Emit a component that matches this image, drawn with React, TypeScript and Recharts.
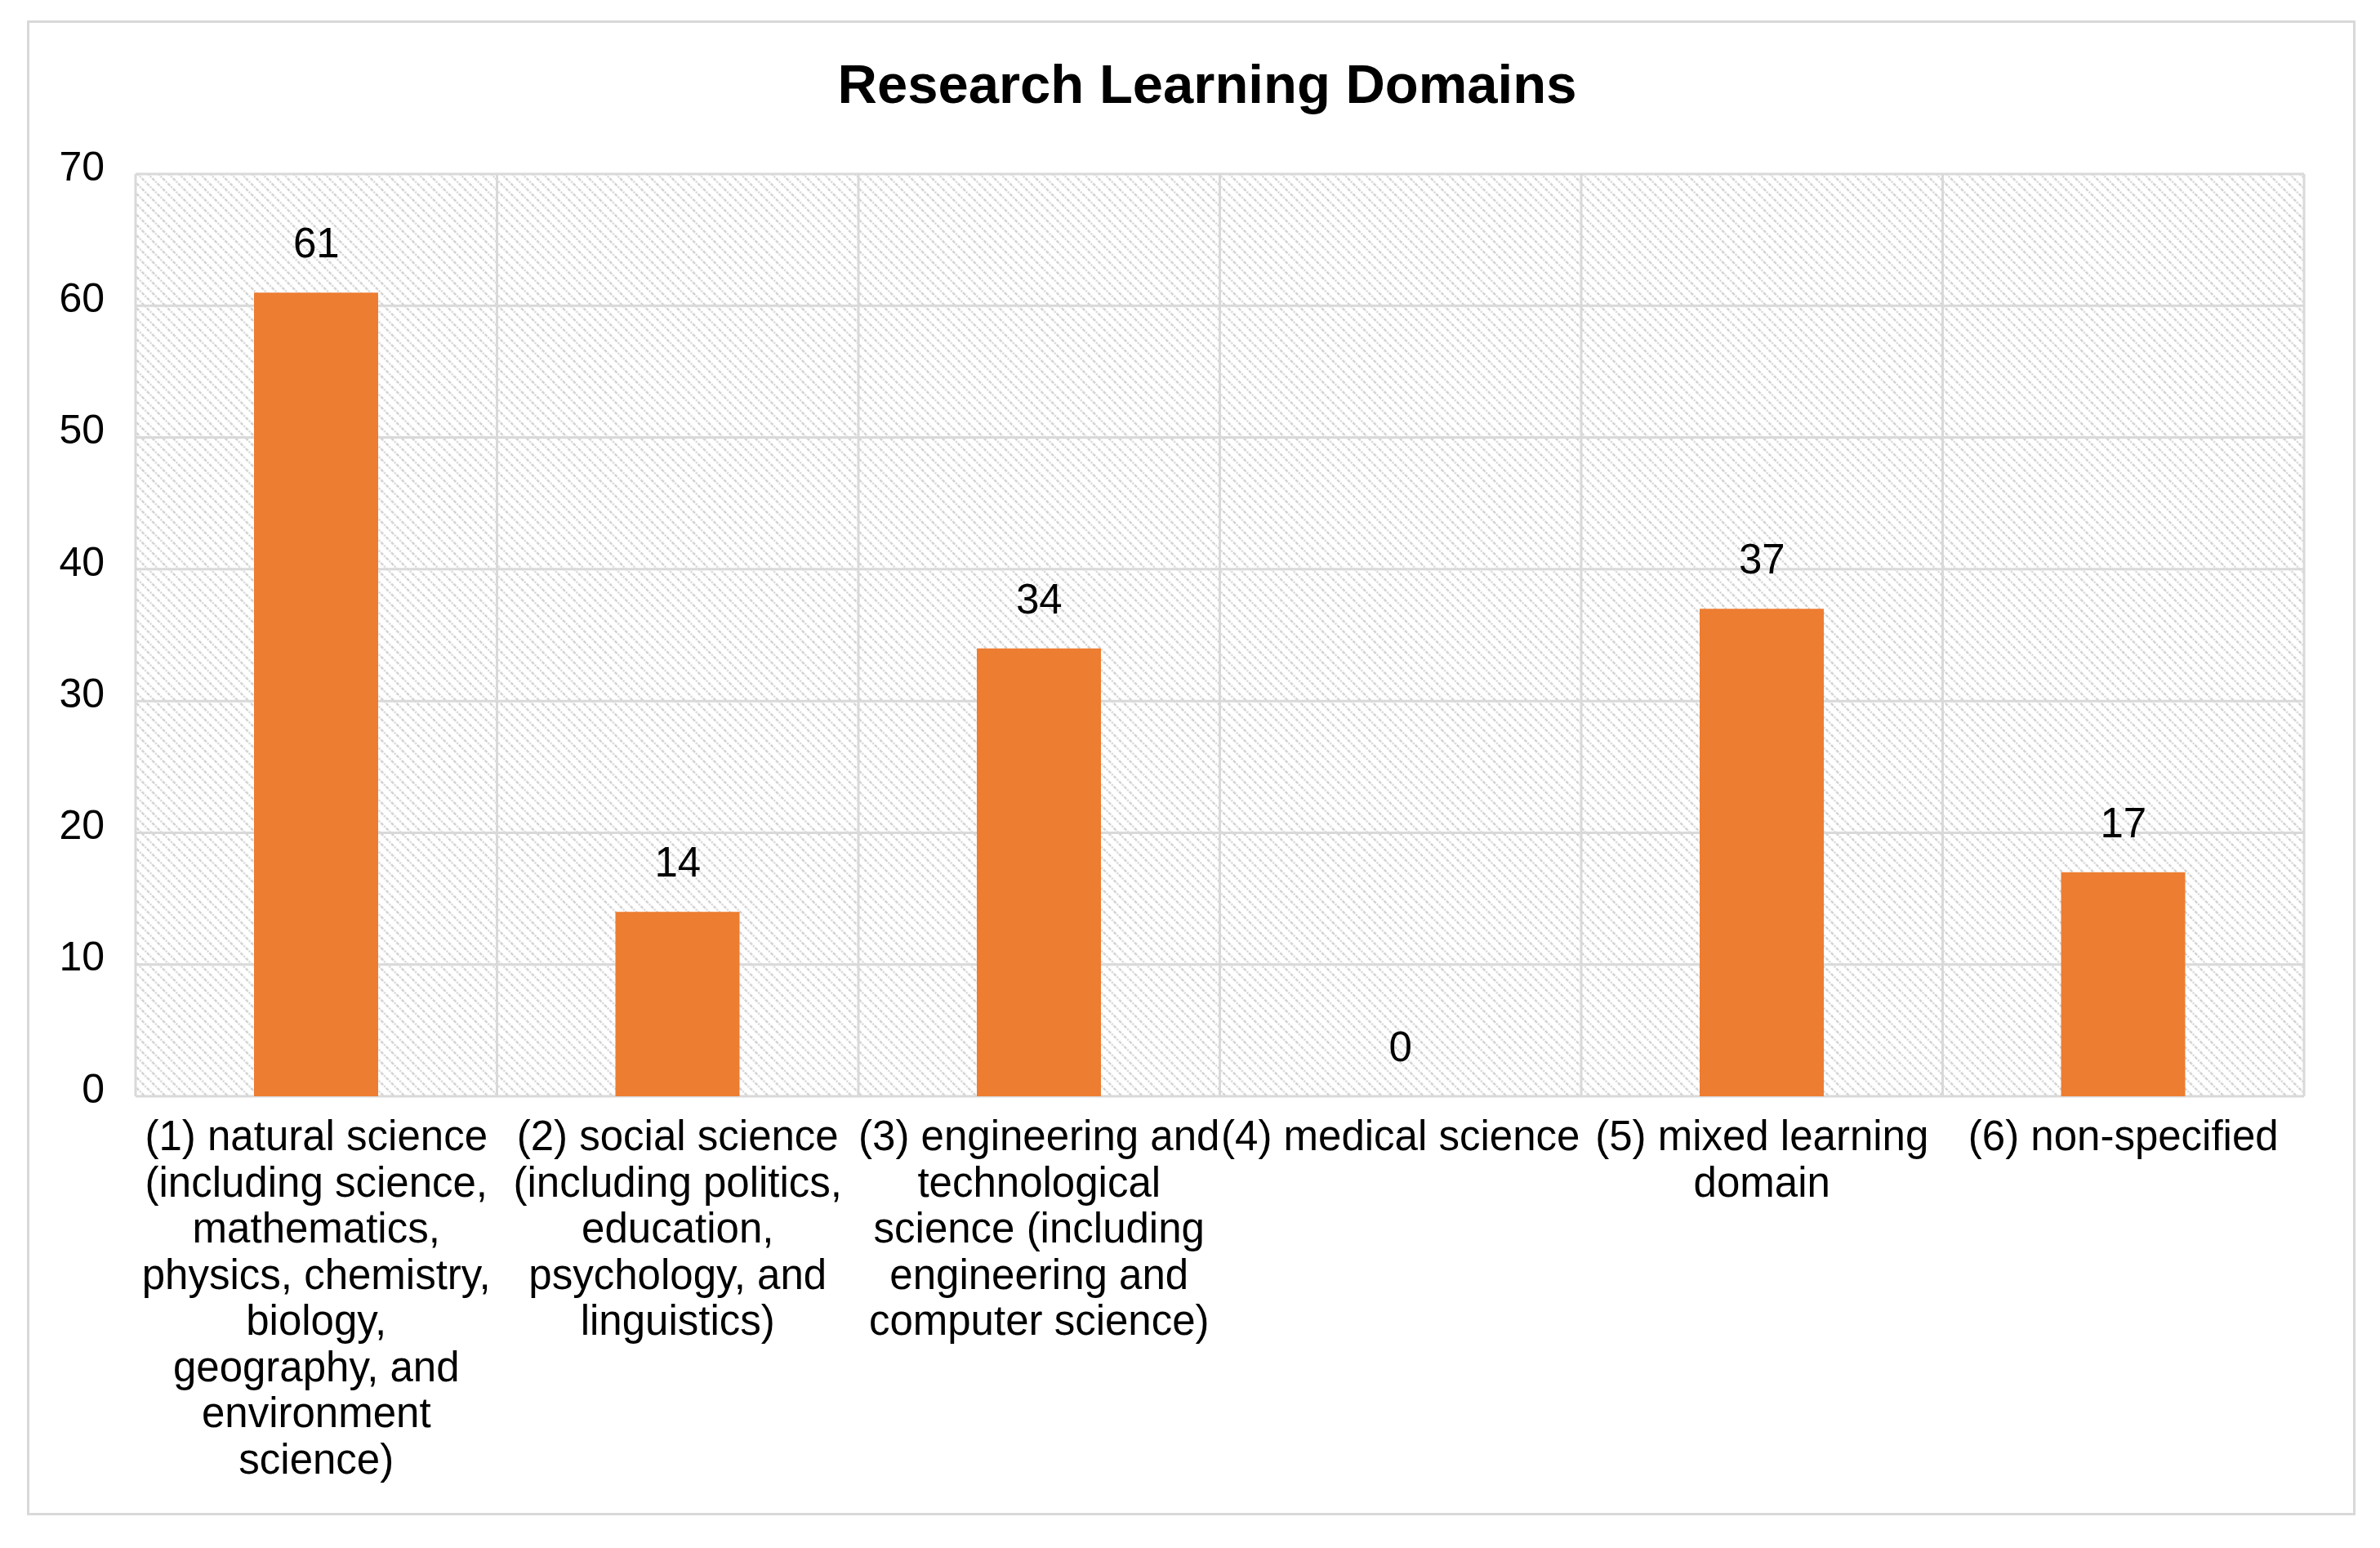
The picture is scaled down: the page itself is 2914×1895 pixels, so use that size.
import React from 'react';
import { ComposedChart, Bar, Line, XAxis, YAxis, CartesianGrid, LabelList } from 'recharts';

const categories = [
  '(1) natural science',
  '(2) social science',
  '(3) engineering and technological science',
  '(4) medical science',
  '(5) mixed learning domain',
  '(6) non-specified',
];

const values = [61, 14, 34, 0, 37, 17];

const tickLines = [
  ['(1) natural science', '(including science,', 'mathematics,', 'physics, chemistry,', 'biology,', 'geography, and', 'environment', 'science)'],
  ['(2) social science', '(including politics,', 'education,', 'psychology, and', 'linguistics)'],
  ['(3) engineering and', 'technological', 'science (including', 'engineering and', 'computer science)'],
  ['(4) medical science'],
  ['(5) mixed learning', 'domain'],
  ['(6) non-specified'],
];

const yTicks = [0, 10, 20, 30, 40, 50, 60, 70];

const title = 'Research Learning Domains';

const data = categories.map((name, i) => ({ name, value: values[i] }));

const FONT = '"Liberation Sans", Arial, sans-serif';
const GRID = '#d9d9d9';

const XTick = (props: any) => {
  const { x, y, payload } = props;
  const idx = categories.indexOf(payload.value);
  const lines = tickLines[idx] || [String(payload.value)];
  return (
    <text textAnchor="middle" fontFamily={FONT} fontSize={51} fill="#000">
      {lines.map((l, i) => (
        <tspan key={i} x={x} y={y + 66 + i * 56.5}>
          {l}
        </tspan>
      ))}
    </text>
  );
};

const YTick = (props: any) => {
  const { x, y, payload } = props;
  return (
    <text x={x} y={y - 10} dy="0.355em" textAnchor="end" fontFamily={FONT} fontSize={50} fill="#000">
      {payload.value}
    </text>
  );
};

const ValueLabel = (props: any) => {
  const { x, y, value } = props;
  return (
    <text x={x} y={y - 43} textAnchor="middle" fontFamily={FONT} fontSize={51} fill="#000">
      {value}
    </text>
  );
};

export default function App() {
  const W = 2914;
  const H = 1895;
  return (
    <div style={{ position: 'absolute', left: 0, top: 0, width: W, height: H, background: '#fff' }}>
      <div
        style={{
          position: 'absolute',
          left: 33,
          top: 25,
          width: 2851,
          height: 1830,
          border: '3px solid #d9d9d9',
          boxSizing: 'border-box',
        }}
      />
      <div
        style={{
          position: 'absolute',
          left: 1478 - 1000,
          width: 2000,
          top: 63,
          lineHeight: '80px',
          textAlign: 'center',
          fontFamily: FONT,
          fontWeight: 'bold',
          fontSize: 67,
          color: '#000',
        }}
      >
        {title}
      </div>
      <div style={{ position: 'absolute', left: 0, top: 0 }}>
        <ComposedChart width={W} height={H} data={data} margin={{ top: 213, right: 93, bottom: 0, left: 0 }}>
          <defs>
            <pattern id="hatch" patternUnits="userSpaceOnUse" width="9" height="9" patternTransform="rotate(45)">
              <rect width="9" height="9" fill="#ffffff" />
              <line x1="0" y1="4.5" x2="9" y2="4.5" stroke="#c8c8c8" strokeWidth="2" strokeDasharray="2 1.5" />
            </pattern>
          </defs>
          <CartesianGrid
            fill="url(#hatch)"
            fillOpacity={1}
            stroke={GRID}
            strokeWidth={3}
            horizontal={true}
            vertical={true}
            verticalCoordinatesGenerator={({ offset }: any) =>
              categories.map((_, i) => offset.left + (i * offset.width) / categories.length).concat([offset.left + offset.width])
            }
          />
          <XAxis
            dataKey="name"
            axisLine={false}
            tickLine={false}
            tickSize={0}
            tickMargin={0}
            height={553}
            interval={0}
            tick={<XTick />}
          />
          <YAxis
            domain={[0, 70]}
            ticks={yTicks}
            axisLine={false}
            tickLine={false}
            tickSize={0}
            tickMargin={38}
            width={166}
            tick={<YTick />}
          />
          <Bar dataKey="value" fill="#ED7D31" barSize={152} isAnimationActive={false} />
          <Line
            dataKey="value"
            stroke="none"
            strokeWidth={0}
            dot={false}
            activeDot={false}
            legendType="none"
            isAnimationActive={false}
          >
            <LabelList dataKey="value" content={<ValueLabel />} />
          </Line>
        </ComposedChart>
      </div>
    </div>
  );
}
